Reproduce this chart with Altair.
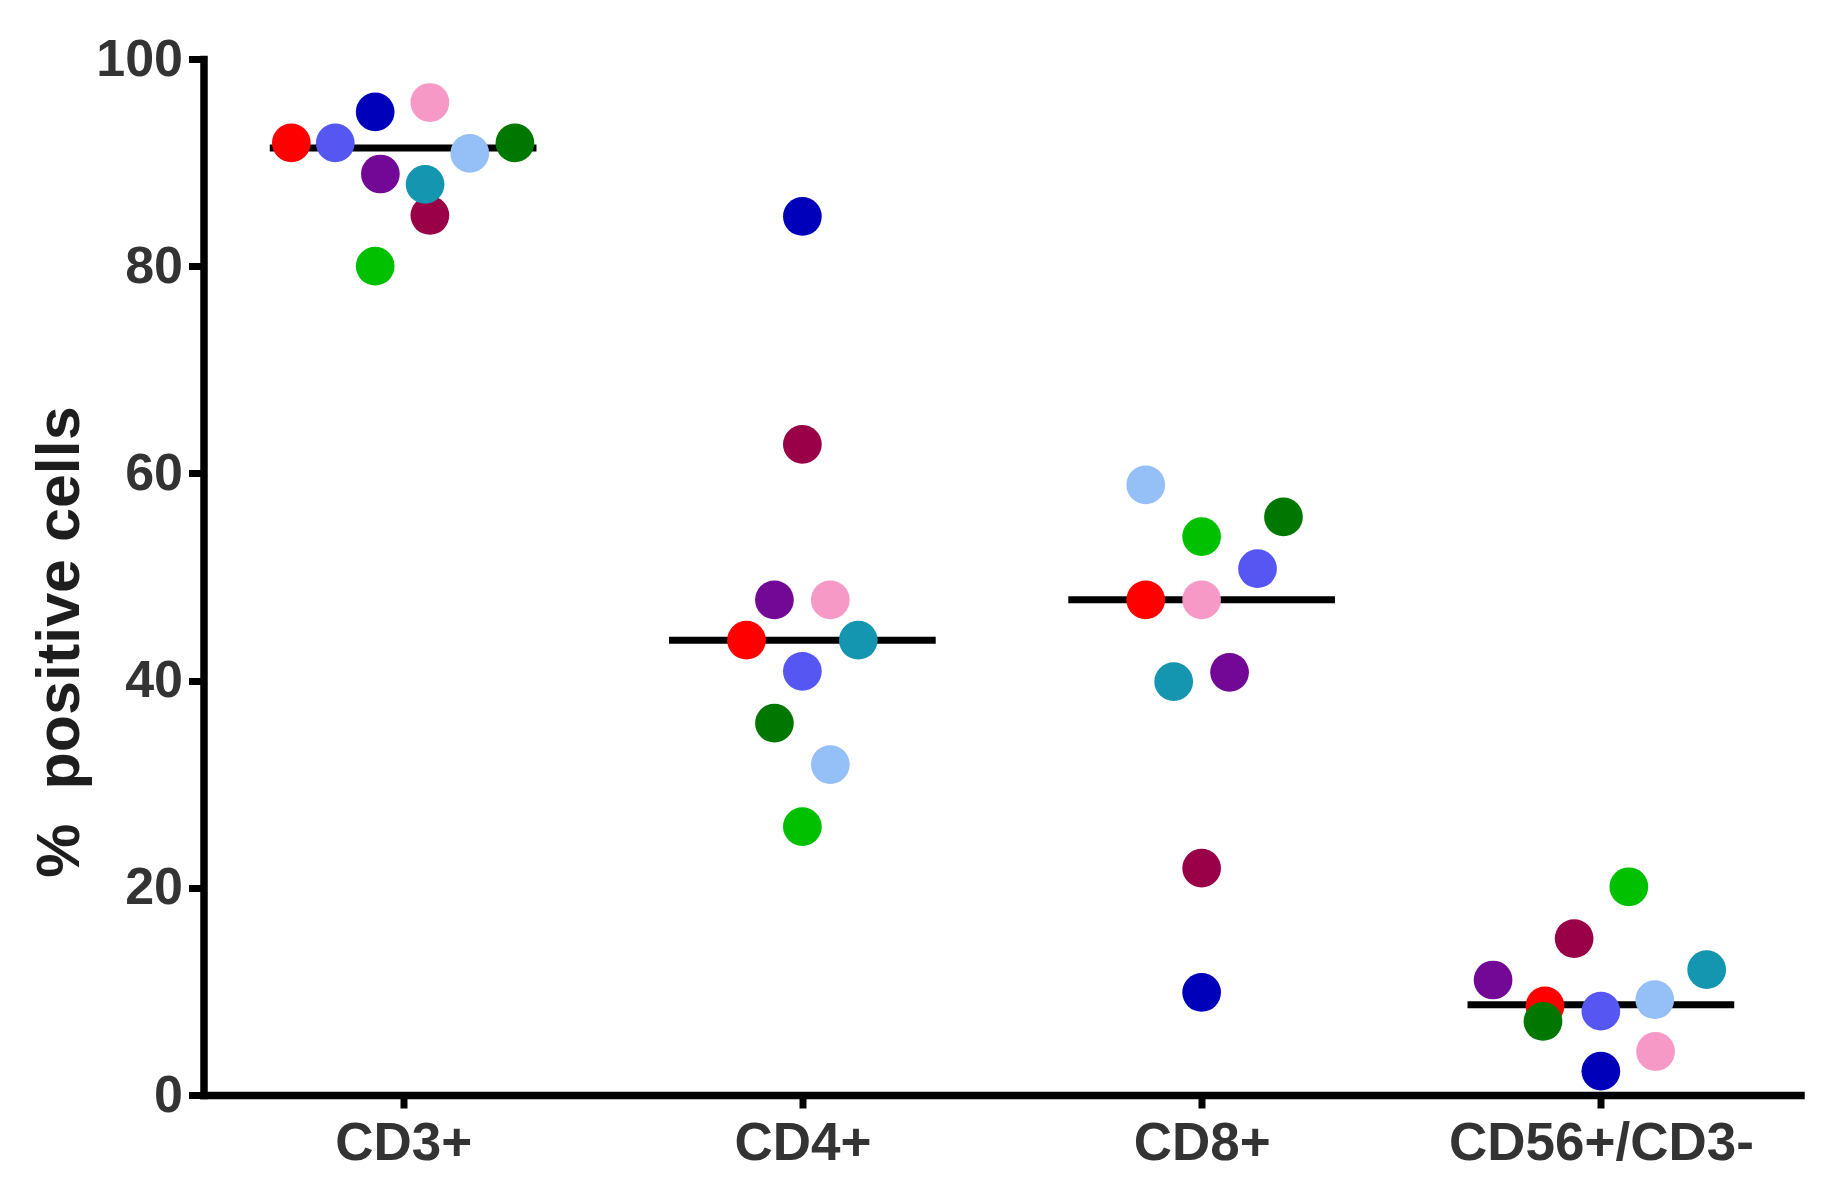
import altair as alt
import pandas as pd

categories = ["CD3+", "CD4+", "CD8+", "CD56+/CD3-"]
donors = ["D1", "D2", "D3", "D4", "D5", "D6", "D7", "D8", "D9", "D10"]
colors = ["#ff0000", "#5656f2", "#0000bb", "#f699c6", "#720895",
          "#9a0047", "#1496b0", "#94bff7", "#007800", "#00c000"]

# % positive cells per donor (same donor order as colors)
cd3 = [91.9, 91.9, 94.9, 95.8, 88.9, 84.9, 87.9, 90.9, 91.9, 80.0]
cd4 = [43.9, 40.9, 84.8, 47.8, 47.8, 62.8, 43.9, 31.9, 35.9, 25.9]
cd8 = [47.8, 50.8, 9.9, 47.8, 40.8, 21.9, 39.9, 58.9, 55.8, 53.9]
cd56 = [8.6, 8.1, 2.3, 4.2, 11.1, 15.1, 12.1, 9.2, 7.1, 20.1]

# horizontal scatter offsets inside each column (fraction of column spacing)
off_cd3 = [-0.28, -0.17, -0.07, 0.067, -0.057, 0.067, 0.055, 0.167, 0.28, -0.07]
off_cd4 = [-0.14, 0.0, 0.0, 0.07, -0.07, 0.0, 0.14, 0.07, -0.07, 0.0]
off_cd8 = [-0.14, 0.14, 0.0, 0.0, 0.07, 0.0, -0.07, -0.14, 0.205, 0.0]
off_cd56 = [-0.14, 0.0, 0.0, 0.137, -0.27, -0.067, 0.265, 0.135, -0.145, 0.07]

medians = [91.4, 43.9, 47.8, 8.7]
median_half_width = 0.334

values = [cd3, cd4, cd8, cd56]
offsets = [off_cd3, off_cd4, off_cd8, off_cd56]

rows = []
for ci, cat in enumerate(categories):
    for di, d in enumerate(donors):
        rows.append({"cat": cat, "donor": d, "pos": ci + 1 + offsets[ci][di],
                     "value": values[ci][di], "order": di})
pts = pd.DataFrame(rows)

med = pd.DataFrame({
    "cat": categories,
    "lo": [i + 1 - median_half_width for i in range(4)],
    "hi": [i + 1 + median_half_width for i in range(4)],
    "median": medians,
})

label_arr = "[" + ",".join("'" + c + "'" for c in categories) + "]"

FONT = "Liberation Sans"

x_axis = alt.Axis(
    values=[1, 2, 3, 4],
    labelExpr=label_arr + "[datum.value - 1]",
    title=None, grid=False, labelLimit=0,
    domainColor="black", domainWidth=7.5, domainCap="square",
    tickColor="black", tickWidth=7, tickSize=13,
    labelFont=FONT, labelFontWeight="bold", labelFontSize=53,
    labelColor="#333333", labelPadding=9,
)
y_axis = alt.Axis(
    values=[0, 20, 40, 60, 80, 100],
    title="%\u00a0 positive cells", grid=False,
    domainColor="black", domainWidth=7.5, domainCap="square",
    tickColor="black", tickWidth=7, tickSize=15,
    labelFont=FONT, labelFontWeight="bold", labelFontSize=52,
    labelColor="#333333", labelPadding=6,
    titleFont=FONT, titleFontWeight="bold", titleFontSize=61,
    titleColor="#1e1e1e", titleAlign="center", titleBaseline="alphabetic",
    titleAngle=270, titleX=-125, titleY=582.5,
)

xs = alt.Scale(domain=[0.5, 4.5], nice=False, zero=False)
ys = alt.Scale(domain=[0, 100], nice=False)

rules = alt.Chart(med).mark_rule(color="black", strokeWidth=7).encode(
    x=alt.X("lo:Q", scale=xs, axis=x_axis),
    x2="hi:Q",
    y=alt.Y("median:Q", scale=ys, axis=y_axis),
)

points = alt.Chart(pts).mark_point(filled=True, shape="circle", size=1500, opacity=1).encode(
    x=alt.X("pos:Q", scale=xs, axis=x_axis),
    y=alt.Y("value:Q", scale=ys, axis=y_axis),
    color=alt.Color("donor:N", scale=alt.Scale(domain=donors, range=colors), legend=None),
    order=alt.Order("order:Q"),
)

chart = alt.layer(rules, points).properties(
    width=1597, height=1036,
    autosize=alt.AutoSizeParams(type="none"),
    padding={"left": 195.5, "top": 51, "right": 39.5, "bottom": 90},
    background="white",
).configure_view(stroke=None)

chart.save("out.html", embed_options={"renderer": "svg", "actions": False})
